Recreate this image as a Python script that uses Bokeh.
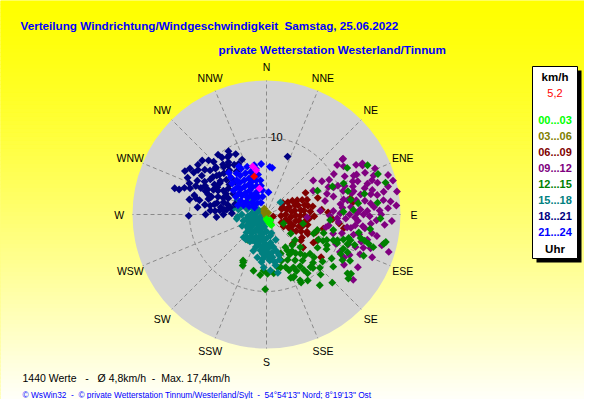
import numpy as np
from bokeh.plotting import figure
from bokeh.models import Range1d, Label
from bokeh.core.properties import value
from bokeh.embed import file_html
from bokeh.resources import INLINE

# ---------------- chart values ----------------
TITLE = "Verteilung Windrichtung/Windgeschwindigkeit  Samstag, 25.06.2022"
SUBTITLE = "private Wetterstation Westerland/Tinnum"
N_VALUES = 1440
MEAN_SPEED = 4.8
MAX_SPEED = 17.4
CURRENT_SPEED = 5.2
CURRENT_DIR = 342
RING_VALUE = 10
COMPASS = ["N", "NNE", "NE", "ENE", "E", "ESE", "SE", "SSE",
           "S", "SSW", "SW", "WSW", "W", "WNW", "NW", "NNW"]
HOUR_LABELS = ["00...03", "03...06", "06...09", "09...12",
               "12...15", "15...18", "18...21", "21...24"]
HOUR_COLORS = ["#00ff00", "#808000", "#800000", "#800080",
               "#008000", "#008080", "#000080", "#0000ff"]

# (direction in degrees, speed in km/h)
h00_03 = [(180, 0.6), (166, 1.0), (146, 0.9), (155, 1.5), (160, 1.3), (172, 0.8)]

h03_06 = [(315, 0.4), (330, 0.6), (300, 0.3), (45, 0.3), (200, 0.2), (340, 0.8)]

h06_09 = [
    (70, 2.1), (95, 1.9), (118, 2.2), (66, 2.3), (106, 0.9), (156, 1.3),
    (55, 2.6), (76, 2.7), (90, 2.5), (104, 2.6), (125, 2.7),
    (60, 3.2), (72, 3.1), (84, 3.3), (96, 3.2), (108, 3.1), (120, 3.3),
    (62, 3.8), (72, 3.9), (82, 3.7), (92, 3.8), (102, 3.9), (112, 3.7), (122, 3.8),
    (65, 4.4), (74, 4.3), (83, 4.5), (92, 4.4), (101, 4.3), (110, 4.5), (119, 4.4),
    (68, 5.0), (76, 5.1), (84, 4.9), (92, 5.0), (100, 5.1), (108, 4.9), (116, 5.0),
    (70, 5.6), (78, 5.5), (86, 5.7), (95, 5.6), (104, 5.5), (113, 5.7),
    (80, 6.1), (92, 6.2),
    (61, 5.8), (72, 7.0), (94, 8.6), (82, 11.3), (104, 7.6), (117, 7.4), (128, 9.0),
    (123, 5.5), (79, 11.1), (127, 5.6), (138, 5.1), (121, 7.1), (115, 5.9), (88, 8.0),
    (97, 9.5), (110, 6.8), (100, 10.2), (85, 7.2), (132, 6.4)]

h09_12 = [
    (55, 11.2), (54, 12.3), (62, 14.1), (67, 13.9), (70, 14.8), (72, 16.6), (80, 17.2),
    (84, 16.2), (79, 15.5), (79, 13.8), (88, 13.1), (89, 11.8), (82, 9.7), (68, 9.4),
    (54, 7.5), (66, 8.8), (80, 10.7), (93, 9.2), (99, 10.6), (104, 13.5), (120, 13.7),
    (119, 11.5), (100, 8.2), (86, 7.0), (94, 5.3), (63, 6.8), (108, 14.2), (107, 16.6),
    (127, 14.1), (109, 13.3), (123, 12.0), (63, 14.0), (54, 12.2),
    (71, 8.3), (77, 7.8), (91, 8.2), (102, 7.9),
    (61, 9.3), (75, 9.0), (87, 8.7), (96, 9.4), (106, 9.0),
    (59, 10.2), (68, 10.0), (73, 10.4), (85, 9.9), (93, 10.3), (104, 10.1), (113, 9.8),
    (64, 11.3), (70, 10.8), (76, 11.4), (85, 11.0), (92, 11.5), (99, 11.1), (110, 11.3),
    (58, 11.8), (66, 12.4), (72, 11.8), (78, 12.5), (87, 12.2), (94, 11.9), (102, 12.3),
    (116, 12.0),
    (61, 13.3), (66, 12.8), (75, 13.2), (82, 12.9), (91, 13.4), (98, 12.9), (113, 13.2),
    (72, 14.4), (77, 14.1), (86, 14.0), (93, 14.3), (100, 13.9),
    (67, 15.3), (74, 15.0), (83, 15.3), (90, 14.9), (95, 15.4), (112, 14.8),
    (77, 16.2), (87, 15.8), (93, 16.3), (75, 17.0), (86, 16.9),
    (59, 8.4), (97, 12.6), (117, 10.7), (89, 9.6),
    (70, 12.6), (75, 11.7), (81, 11.8), (84, 13.6), (90, 12.6), (95, 13.6), (88, 14.7),
    (80, 14.6), (73, 13.7), (69, 12.0), (79, 10.2), (90, 10.8), (97, 11.6), (103, 11.6),
    (106, 12.8), (110, 12.3), (101, 14.6), (105, 15.5)]

h12_15 = [
    (205, 7.3), (181, 9.7), (207, 6.7), (165, 7.1), (179, 7.7), (156, 8.8), (153, 9.9),
    (148, 10.1), (136, 12.3), (128, 13.5), (125, 13.4), (132, 8.3), (146, 8.7),
    (150, 5.4), (139, 6.7), (153, 9.6), (140, 8.9), (126, 13.0), (118, 2.5), (128, 4.0),
    (132, 5.0), (134, 6.1), (150, 4.9), (160, 5.4), (168, 7.0), (173, 7.7), (153, 7.7),
    (142, 7.6), (132, 7.6), (123, 7.9), (115, 8.1), (136, 8.7), (145, 9.3), (159, 8.8),
    (193, 7.5), (206, 6.9), (183, 7.3), (217, 4.1), (145, 5.8), (155, 6.5), (140, 5.2),
    (162, 6.3), (148, 7.0), (137, 7.3), (130, 9.5), (124, 10.2), (138, 10.5), (143, 11.5),
    (120, 9.0), (186, 7.9), (160, 7.3), (157, 8.9), (139, 9.2),
    (143, 6.3), (150, 6.0), (147, 8.0), (152, 8.3), (158, 7.8), (135, 9.8), (128, 11.0),
    (60, 12.1), (64, 14.6), (70, 15.4), (75, 16.0), (84, 14.5), (92, 14.8), (98, 13.6),
    (101, 12.2), (107, 11.4), (110, 9.8), (103, 15.9), (118, 10.9), (119, 12.4),
    (95, 8.3), (65, 7.3), (74, 11.0), (87, 11.3), (83, 12.0), (104, 4.9), (112, 6.6),
    (110, 11.2), (104, 15.7), (107, 14.5), (104, 12.6), (111, 9.3), (103, 8.9),
    (108, 10.5), (105, 13.2), (113, 8.5), (116, 7.5), (88, 10.0), (78, 13.0), (68, 10.8),
    (67, 9.3), (80, 11.1), (114, 10.9), (106, 11.1), (107, 6.9),
    (108, 7.8), (112, 9.9), (115, 11.6), (109, 12.1), (106, 13.8), (113, 13.7),
    (117, 8.8), (121, 11.5)]

h15_18 = [
    (250, 0.8), (300, 0.8),
    (215, 1.3), (240, 1.4), (280, 1.3), (300, 1.2),
    (200, 1.9), (225, 1.8), (250, 2.0), (275, 1.9), (295, 2.0),
    (190, 2.5), (205, 2.4), (215, 2.6), (230, 2.5), (260, 2.5), (285, 2.6), (302, 2.9),
    (180, 3.1), (192, 3.0), (205, 3.2), (218, 3.1), (232, 3.0), (255, 3.1), (270, 3.2),
    (290, 3.3),
    (172, 3.7), (183, 3.8), (195, 3.6), (208, 3.8), (222, 3.9), (265, 3.8), (280, 3.7),
    (296, 4.2),
    (168, 4.3), (177, 4.4), (187, 4.2), (198, 4.4), (212, 4.1), (225, 4.2), (262, 3.9),
    (280, 4.4),
    (165, 4.9), (172, 5.0), (180, 4.8), (190, 4.7), (200, 5.0),
    (163, 5.5), (172, 5.6), (182, 5.4), (192, 5.7),
    (164, 6.1), (176, 6.0), (186, 6.2), (170, 6.3),
    (170, 6.7), (183, 6.9), (176, 7.3), (169, 7.7),
    (49, 2.4), (222, 4.0), (220, 4.2), (214, 2.5), (211, 4.0), (245, 1.9), (310, 3.0),
    (290, 3.5),
    (175, 4.1), (183, 4.6), (178, 5.3), (186, 5.1), (195, 4.0), (202, 3.4), (188, 3.4),
    (176, 5.8), (185, 5.8), (215, 3.5), (228, 3.5), (240, 3.0), (248, 2.5),
    (200, 1.0), (230, 1.0), (260, 1.5), (190, 1.6), (210, 2.0), (235, 2.1), (180, 2.2),
    (170, 2.8), (195, 2.9), (225, 3.0), (245, 3.5), (240, 2.6), (265, 2.4), (200, 3.9),
    (185, 4.8), (160, 3.5), (165, 2.5)]

h18_21 = [
    (272, 4.5), (281, 4.8), (288, 4.3),
    (270, 5.6), (277, 5.2), (286, 5.8), (293, 5.4), (302, 5.1),
    (267, 6.5), (275, 6.1), (283, 6.6), (291, 6.0), (299, 6.4), (309, 6.2), (316, 5.9),
    (274, 7.3), (281, 6.9), (288, 7.5), (296, 7.0), (304, 7.3), (311, 6.9), (318, 7.4),
    (325, 6.8),
    (279, 8.1), (287, 7.6), (293, 8.3), (300, 7.8), (308, 8.2), (314, 7.7), (322, 8.1),
    (331, 7.5),
    (282, 8.9), (291, 8.5), (298, 9.1), (305, 8.5), (312, 8.9), (319, 8.6), (326, 9.0),
    (333, 8.8),
    (285, 9.7), (292, 9.2), (301, 9.8), (308, 9.3), (315, 9.7), (322, 9.4), (328, 9.1),
    (289, 10.5), (296, 10.0), (303, 10.6), (313, 10.3), (321, 10.0),
    (288, 11.2), (295, 11.3), (306, 11.0),
    (286, 11.8), (298, 12.0), (286, 12.4),
    (269, 10.1), (20, 8.0), (292, 10.8), (279, 6.0), (336, 7.8), (329, 9.6),
    (301, 11.6), (310, 10.9), (276, 9.0), (281, 10.2), (318, 8.3), (304, 6.0), (297, 5.9),
    (284, 5.2), (290, 6.7), (295, 7.6), (302, 8.6), (306, 7.4), (310, 8.0), (313, 9.0),
    (316, 6.6), (320, 7.5), (324, 8.4), (327, 7.7), (289, 8.0), (295, 8.8), (299, 7.3),
    (285, 7.8), (292, 9.9), (306, 9.9), (300, 10.9), (283, 9.4), (279, 7.4), (274, 6.7),
    (270, 7.9), (276, 5.5)]

h21_24 = [
    (300, 1.8), (320, 1.9), (335, 1.7),
    (295, 2.5), (310, 2.4), (322, 2.6), (335, 2.5), (348, 2.4),
    (292, 3.2), (302, 3.1), (312, 3.3), (322, 3.2), (332, 3.1), (342, 3.3), (350, 3.2),
    (288, 3.9), (298, 3.8), (308, 4.0), (316, 3.9), (325, 3.8), (333, 4.0), (341, 3.9),
    (349, 3.8),
    (300, 4.6), (308, 4.5), (315, 4.7), (322, 4.6), (329, 4.5), (336, 4.7), (343, 4.6),
    (350, 4.5),
    (306, 5.3), (313, 5.2), (320, 5.4), (327, 5.3), (334, 5.2), (341, 5.4), (348, 5.3),
    (312, 6.0), (319, 5.9), (326, 6.1), (333, 6.0), (340, 5.9), (347, 6.1),
    (316, 6.7), (324, 6.6), (331, 6.8), (338, 6.7), (346, 6.6),
    (318, 7.3), (330, 7.2),
    (354, 6.6), (4, 6.2), (7, 6.1), (5, 2.9)]

recent = [(344, 6.5), (347, 5.9), (345, 3.5)]

GROUPS = [h00_03, h03_06, h06_09, h09_12, h12_15, h15_18, h18_21, h21_24]
DRAW_ORDER = [2, 3, 4, 5, 6, 7, 1, 0]

# ---------------- layout ----------------
W, H = 584, 399
R_PX = 134.0                 # pixel radius of the outer ring (= max speed)
S = R_PX / MAX_SPEED         # pixels per km/h
CX, CY = 266, 214            # centre of the rose inside the canvas


def at(X, Y):
    """canvas pixel position -> data coordinates"""
    return (X - CX) / S, (CY - Y) / S


def polar(points):
    d = np.radians([q[0] for q in points])
    s = np.array([q[1] for q in points], dtype=float)
    return s * np.sin(d), s * np.cos(d)


p = figure(width=W, height=H,
           x_range=Range1d(-CX / S, (W - CX) / S),
           y_range=Range1d(-(H - CY) / S, CY / S),
           output_backend="svg", toolbar_location=None,
           min_border=0, x_axis_location=None, y_axis_location=None,
           outline_line_color=None, background_fill_color="#ffff00",
           border_fill_color="#ffff00")
p.grid.visible = False

# background gradient (yellow -> very pale yellow)
nb = 100
tops, bots, cols = [], [], []
for i in range(nb):
    y0 = i * H / nb
    y1 = (i + 1) * H / nb
    t = ((y0 + y1) / 2) / 405.0
    b = min(255, int(round(255 * t ** 1.3)))
    tops.append(at(0, y0)[1])
    bots.append(at(0, y1 + 0.6)[1])
    cols.append("#ffff%02x" % b)
p.quad(left=-CX / S - 1, right=(W - CX) / S + 1, top=tops, bottom=bots,
       fill_color=cols, line_color=None)

# disc, spokes and ring
p.circle(x=0, y=0, radius=MAX_SPEED, fill_color="#d3d3d3", line_color=None)
ang = np.radians(np.arange(16) * 22.5)
p.segment(x0=0, y0=0, x1=MAX_SPEED * np.sin(ang), y1=MAX_SPEED * np.cos(ang),
          line_color="#8a8a8a", line_dash="4 3", line_width=1)
p.circle(x=0, y=0, radius=RING_VALUE, fill_color=None, line_color="#8a8a8a",
         line_dash="4 3", line_width=1)
p.text(x=[0.52], y=[RING_VALUE], text=[str(RING_VALUE)], text_align="left",
       text_baseline="middle", text_font=value("Liberation Sans"),
       text_font_size="11px", text_color="black")

# compass labels
R_LAB = MAX_SPEED * 1.1
p.text(x=R_LAB * np.sin(ang), y=R_LAB * np.cos(ang), text=COMPASS,
       text_align="center", text_baseline="middle",
       text_font=value("Liberation Sans"), text_font_size="10.5px",
       text_color="black")

# scatter of values, coloured by hour
MS = 5.6
for gi in DRAW_ORDER:
    x, y = polar(GROUPS[gi])
    p.scatter(x, y, marker="square", angle=np.pi / 4, size=MS,
              fill_color=HOUR_COLORS[gi], line_color=None)
x, y = polar(recent)
p.scatter(x, y, marker="square", angle=np.pi / 4, size=MS,
          fill_color="#ff00ff", line_color=None)
x, y = polar([(CURRENT_DIR, CURRENT_SPEED)])
p.scatter(x, y, marker="square", angle=np.pi / 4, size=MS,
          fill_color="#ff0000", line_color=None)

# legend box with shadow
lx0, lx1, ly0, ly1 = 532, 577, 66, 258
a0, a1 = at(lx0 + 4, ly0 + 4), at(lx1 + 4, ly1 + 4)
p.quad(left=a0[0], right=a1[0], top=a0[1], bottom=a1[1],
       fill_color="black", line_color=None)
b0, b1 = at(lx0, ly0), at(lx1, ly1)
p.quad(left=b0[0], right=b1[0], top=b0[1], bottom=b1[1],
       fill_color="white", line_color="black", line_width=1)


def label(X, Y, txt, size, color, bold=False, align="left"):
    x, y = at(X, Y)
    p.add_layout(Label(x=x, y=y, text=txt, text_font="Liberation Sans",
                       text_font_size=size, text_color=color,
                       text_font_style="bold" if bold else "normal",
                       text_align=align, text_baseline="middle"))


LCX = 554.5
label(LCX, 76, "km/h", "11.5px", "black", True, "center")
label(LCX, 92, ("%.1f" % CURRENT_SPEED).replace(".", ","), "11px", "#ff0000",
      False, "center")
for i, (t, c) in enumerate(zip(HOUR_LABELS, HOUR_COLORS)):
    label(LCX, 119 + i * 16.1, t, "11px", c, True, "center")
label(LCX, 248, "Uhr", "11.5px", "black", True, "center")

# titles
label(20, 25, TITLE.replace("  ", "\u00a0\u00a0"), "11.7px", "#0000ff", True)
label(218, 49, SUBTITLE, "11.7px", "#0000ff", True)

# footer
nb3 = "\u00a0\u00a0\u00a0"
nb2 = "\u00a0\u00a0"
footer = ("%d Werte%s-%s\u00d8 %skm/h%s-%sMax. %skm/h" %
          (N_VALUES, nb3, nb3, ("%.1f" % MEAN_SPEED).replace(".", ","), nb2, nb2,
           ("%.1f" % MAX_SPEED).replace(".", ",")))
label(22, 377, footer, "10.5px", "black")
label(22, 394, "\u00a9 WsWin32" + nb2 + "-" + nb2 +
      "\u00a9 private Wetterstation Tinnum/Westerland/Sylt" + nb2 + "-" + nb2 +
      "54\u00b054'13\" Nord; 8\u00b019'13\" Ost", "8.3px", "#0000ff")

open("out.html", "w").write(file_html(p, INLINE))
